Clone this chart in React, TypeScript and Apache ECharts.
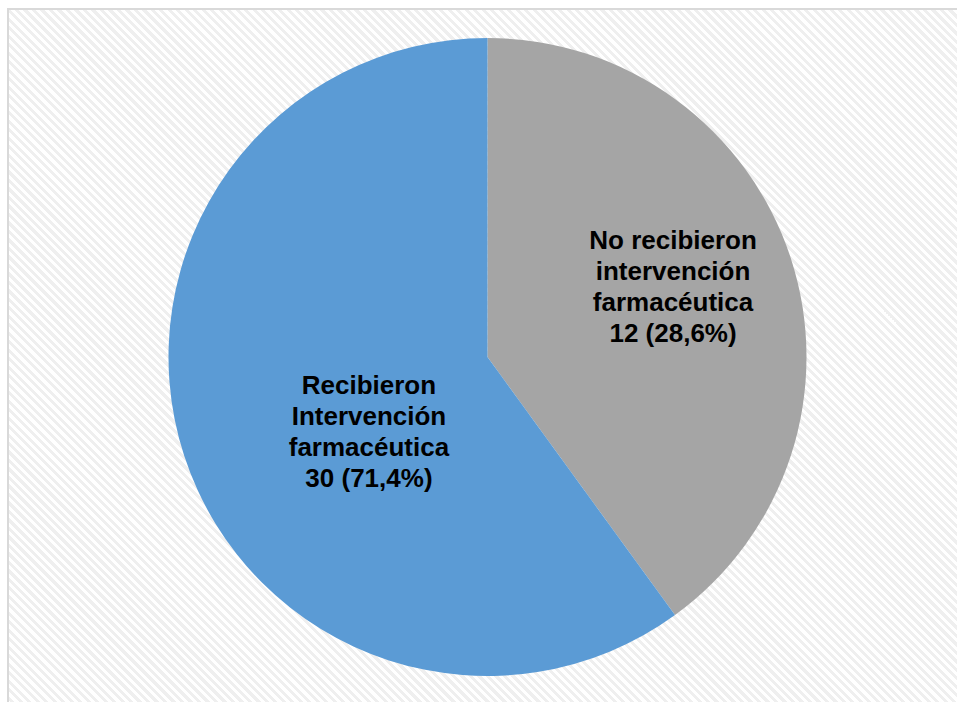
import React, { useEffect, useRef } from "react";
import * as echarts from "echarts";

// Categories and values
const categories = [
  "No recibieron\nintervención\nfarmacéutica",
  "Recibieron\nIntervención\nfarmacéutica",
];
const counts = [12, 30];
const percents = ["28,6", "71,4"];
// Slice sizes as drawn in the picture (share of the circle, %)
const sliceShare = [40, 60];
const colors = ["#A5A5A5", "#5B9BD5"];

export default function App() {
  const ref = useRef<HTMLDivElement>(null);

  useEffect(() => {
    if (!ref.current) return;
    const chart = echarts.init(ref.current, undefined, { renderer: "svg" });
    const labelShift = [
      { dx: 31, dy: -20 },
      { dx: 36, dy: 24 },
    ];
    chart.setOption({
      animation: false,
      backgroundColor: "transparent",
      series: [
        {
          type: "pie",
          center: [487.5, 357],
          radius: [0, 319],
          startAngle: 90,
          clockwise: true,
          avoidLabelOverlap: false,
          silent: true,
          itemStyle: { borderWidth: 0 },
          label: {
            show: true,
            position: "inside",
            color: "#000000",
            fontFamily: "Liberation Sans, Arial, sans-serif",
            fontWeight: "bold",
            fontSize: 26,
            lineHeight: 31,
            align: "center",
            formatter: (p: any) =>
              `${categories[p.dataIndex]}\n${counts[p.dataIndex]} (${percents[p.dataIndex]}%)`,
          },
          labelLine: { show: false },
          labelLayout: (p: any) => labelShift[p.dataIndex],
          data: categories.map((c, i) => ({
            name: c,
            value: sliceShare[i],
            itemStyle: { color: colors[i] },
          })),
        },
      ],
    });
    return () => chart.dispose();
  }, []);

  return (
    <div
      style={{
        position: "fixed",
        left: 0,
        top: 0,
        width: 957,
        height: 702,
        background: "#ffffff",
        overflow: "hidden",
      }}
    >
      <div
        style={{
          position: "absolute",
          left: 7,
          top: 8,
          width: 980,
          height: 720,
          borderLeft: "2px solid #d9d9d9",
          borderTop: "2px solid #d9d9d9",
          background:
            "repeating-linear-gradient(45deg, #ffffff 0px, #ffffff 3px, #efefef 3px, #efefef 6px)",
        }}
      />
      <div
        ref={ref}
        style={{ position: "absolute", left: 0, top: 0, width: 957, height: 702 }}
      />
    </div>
  );
}
